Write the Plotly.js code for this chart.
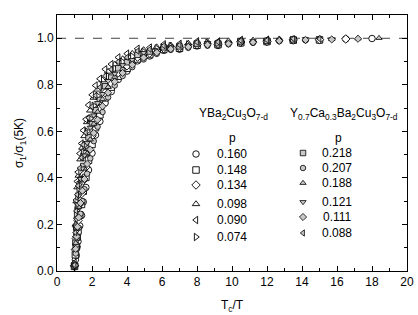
<!DOCTYPE html>
<html>
<head>
<meta charset="utf-8">
<script src="https://cdn.plot.ly/plotly-3.0.1.min.js"></script>
<style>html,body{margin:0;padding:0;background:#fff;}#chart{width:418px;height:315px;}</style>
</head>
<body>
<div id="chart"></div>
<script>
// ---- sampling grids of Tc/T ----
const gridA = [1.00,1.05,1.10,1.15,1.20,1.30,1.40,1.50,1.65,1.80,2.00,2.20,2.45,2.75,3.1,3.5,4.0,4.6,5.3,6.1,7.0,8.0,9.2,10.5,12,13.5,15,16.5,18];
const gridB = [1.02,1.07,1.12,1.17,1.24,1.34,1.45,1.57,1.72,1.90,2.10,2.32,2.60,2.92,3.3,3.75,4.3,4.95,5.7,6.5,7.5,8.6,9.8,11.2,12.7,14.2,15.7,17.2,18.4];

// ---- YBa2Cu3O7-d : sigma1/sigma1(5K) ----
const ybco_p160 = [0.018,0.048,0.067,0.104,0.127,0.194,0.239,0.297,0.359,0.434,0.506,0.584,0.643,0.722,0.771,0.823,0.859,0.903,0.924,0.948,0.953,0.967,0.969,0.979,0.984,0.99,0.991,0.997,0.999];
const ybco_p148 = [0.02,0.07,0.103,0.146,0.172,0.241,0.286,0.343,0.402,0.476,0.544,0.616,0.671,0.744,0.79,0.837,0.871,0.911,0.93,0.952,0.957,0.97,0.973,0.981,0.986,0.992,0.993];
const ybco_p134 = [0.022,0.092,0.139,0.188,0.217,0.287,0.332,0.389,0.447,0.518,0.581,0.648,0.699,0.766,0.807,0.852,0.882,0.919,0.936,0.956,0.96,0.973,0.975,0.984,0.987,0.993,0.994,0.997];
const ybco_p098 = [0.03,0.2,0.3,0.36,0.41,0.48,0.53,0.58,0.64,0.69,0.745,0.78,0.82,0.857,0.887,0.911,0.934,0.95,0.962,0.97,0.978,0.984,0.988,0.991,0.996];
const ybco_p090 = [0.035,0.195,0.305,0.385,0.425,0.505,0.548,0.604,0.652,0.713,0.757,0.797,0.826,0.867,0.889,0.918,0.934,0.955,0.960,0.974,0.976,0.987,0.986,0.993,0.994];
const ybco_p074 = [0.03,0.17,0.26,0.32,0.37,0.43,0.49,0.54,0.6,0.655,0.71,0.752,0.795,0.836,0.87,0.898,0.922,0.942,0.956,0.966,0.973,0.98];

// ---- Y0.7Ca0.3Ba2Cu3O7-d ----
const yca_p218 = [0.024,0.121,0.186,0.244,0.277,0.349,0.394,0.451,0.506,0.574,0.631,0.691,0.735,0.794,0.831,0.871,0.897,0.929,0.943,0.961,0.965,0.977,0.979,0.986,0.989,0.995];
const yca_p207 = [0.024,0.075,0.112,0.148,0.185,0.246,0.3,0.352,0.418,0.484,0.558,0.62,0.683,0.746,0.797,0.838,0.876,0.909,0.933,0.95,0.959,0.968,0.974,0.98,0.987,0.991];
const yca_p188 = [0.026,0.12,0.185,0.232,0.275,0.34,0.393,0.44,0.505,0.565,0.632,0.684,0.738,0.79,0.834,0.868,0.9,0.927,0.945,0.959,0.967,0.975,0.98,0.985,0.99,0.994,0.996,0.999,1.001];
const yca_p121 = [0.025,0.142,0.222,0.286,0.322,0.396,0.441,0.497,0.55,0.616,0.669,0.722,0.761,0.817,0.848,0.885,0.907,0.937,0.948,0.964,0.968,0.98,0.981,0.988,0.991,0.997,0.996];
const yca_p111 = [0.025,0.095,0.148,0.19,0.23,0.292,0.345,0.395,0.46,0.522,0.593,0.65,0.708,0.766,0.813,0.851,0.886,0.917,0.939,0.954,0.963,0.972,0.977,0.983,0.989,0.993,0.995,0.998];
const yca_p088 = [0.026,0.165,0.258,0.328,0.366,0.442,0.487,0.543,0.594,0.658,0.706,0.754,0.789,0.838,0.866,0.899,0.918,0.945,0.953,0.968,0.971,0.983,0.984,0.99,0.992,0.998,0.997];

const ybcoLabels = ['0.160','0.148','0.134','0.098','0.090','0.074'];
const ycaLabels  = ['0.218','0.207','0.188','0.121','0.111','0.088'];
const xTicks = [0,2,4,6,8,10,12,14,16,18,20];
const yTicks = [0.0,0.2,0.4,0.6,0.8,1.0];

// ---- styling / layout ----
const ybcoSeries = [
  {y: ybco_p160, g: gridA, sym: 'circle'},
  {y: ybco_p148, g: gridA, sym: 'square'},
  {y: ybco_p134, g: gridA, sym: 'diamond'},
  {y: ybco_p098, g: gridB, sym: 'triangle-up'},
  {y: ybco_p090, g: gridA, sym: 'triangle-left'},
  {y: ybco_p074, g: gridB, sym: 'triangle-right'}
];
const ycaSeries = [
  {y: yca_p218, g: gridA, sym: 'square'},
  {y: yca_p207, g: gridB, sym: 'circle'},
  {y: yca_p188, g: gridB, sym: 'triangle-up'},
  {y: yca_p121, g: gridB, sym: 'triangle-down'},
  {y: yca_p111, g: gridB, sym: 'diamond'},
  {y: yca_p088, g: gridA, sym: 'triangle-left'}
];

const FONT = 'Liberation Sans, Arial, sans-serif';
const W = 418, H = 315;
const M = {l: 57, r: 11, t: 15, b: 44};
const pw = W - M.l - M.r, ph = H - M.t - M.b;
const px2x = p => (p - M.l) / pw;
const py2y = p => (H - M.b - p) / ph;

const styleYBCO = {size: 6.5, color: '#ffffff', line: {color: '#000', width: 0.9}};
const styleYCA  = {size: 5.5, color: '#c8c8c8', line: {color: '#000', width: 0.8}};

const traces = [];
ybcoSeries.forEach((s, i) => traces.push({
  type: 'scatter', mode: 'markers', name: 'YBCO p=' + ybcoLabels[i],
  x: s.g.slice(0, s.y.length), y: s.y,
  marker: Object.assign({symbol: s.sym}, styleYBCO), showlegend: false
}));
ycaSeries.forEach((s, i) => traces.push({
  type: 'scatter', mode: 'markers', name: 'YCa p=' + ycaLabels[i],
  x: s.g.slice(0, s.y.length), y: s.y,
  marker: Object.assign({symbol: s.sym}, styleYCA), showlegend: false
}));

// legend key symbols (positions in pixels)
const legLeftX = 196, legRightX = 303;
const legLeftRows = [154, 170, 185, 204, 220, 237];
const legRightRows = [153, 168, 183, 202, 217, 233];
traces.push({
  type: 'scatter', mode: 'markers', xaxis: 'x2', yaxis: 'y2', showlegend: false, hoverinfo: 'skip',
  x: legLeftRows.map(() => px2x(legLeftX)), y: legLeftRows.map(py2y),
  marker: {symbol: ybcoSeries.map(s => s.sym), size: 6.5, color: '#fff', line: {color: '#000', width: 0.9}}
});
traces.push({
  type: 'scatter', mode: 'markers', xaxis: 'x2', yaxis: 'y2', showlegend: false, hoverinfo: 'skip',
  x: legRightRows.map(() => px2x(legRightX)), y: legRightRows.map(py2y),
  marker: {symbol: ycaSeries.map(s => s.sym), size: 5.5, color: '#c8c8c8', line: {color: '#000', width: 0.8}}
});

const annotations = [];
const ann = (text, xpx, ypx, size) => annotations.push({
  text: text, xref: 'paper', yref: 'paper', x: px2x(xpx), y: py2y(ypx),
  xanchor: 'center', yanchor: 'middle', showarrow: false,
  font: {family: FONT, size: size || 12, color: '#000'}
});
ann('YBa<sub>2</sub>Cu<sub>3</sub>O<sub>7-d</sub>', 233, 114);
ann('Y<sub>0.7</sub>Ca<sub>0.3</sub>Ba<sub>2</sub>Cu<sub>3</sub>O<sub>7-d</sub>', 344, 114);
ann('p', 232, 138);
ann('p', 338, 138);
ybcoLabels.forEach((t, i) => ann(t, 232, legLeftRows[i]));
ycaLabels.forEach((t, i) => ann(t, 337, legRightRows[i]));

const axisCommon = {
  showline: true, linecolor: '#000', linewidth: 1, mirror: 'ticks',
  ticks: 'inside', ticklen: 5, tickwidth: 1, tickcolor: '#000',
  showgrid: false, zeroline: false,
  tickfont: {family: FONT, size: 12, color: '#000'}
};

const layout = {
  width: W, height: H, margin: M,
  paper_bgcolor: '#fff', plot_bgcolor: '#fff',
  showlegend: false,
  xaxis: Object.assign({}, axisCommon, {
    range: [0, 20], tickvals: xTicks, ticktext: xTicks.map(String),
    minor: {dtick: 1, ticklen: 3, ticks: 'inside', tickcolor: '#000'},
    title: {text: 'T<sub>c</sub>/T', font: {family: FONT, size: 12, color: '#000'}, standoff: 12}
  }),
  yaxis: Object.assign({}, axisCommon, {
    range: [0, 1.1], tickvals: yTicks, ticktext: yTicks.map(v => v.toFixed(1)),
    minor: {dtick: 0.1, ticklen: 3, ticks: 'inside', tickcolor: '#000'},
    title: {text: 'σ<sub>1</sub>/σ<sub>1</sub>(5K)', font: {family: FONT, size: 12, color: '#000'}, standoff: 10}
  }),
  xaxis2: {overlaying: 'x', range: [0, 1], visible: false},
  yaxis2: {overlaying: 'y', range: [0, 1], visible: false},
  shapes: [{
    type: 'line', xref: 'paper', x0: 0, x1: 1, yref: 'y', y0: 1, y1: 1,
    line: {color: '#444', width: 1, dash: 'dash'}, layer: 'below'
  }],
  annotations: annotations
};

Plotly.newPlot('chart', traces, layout, {staticPlot: true, displayModeBar: false});
</script>
</body>
</html>
